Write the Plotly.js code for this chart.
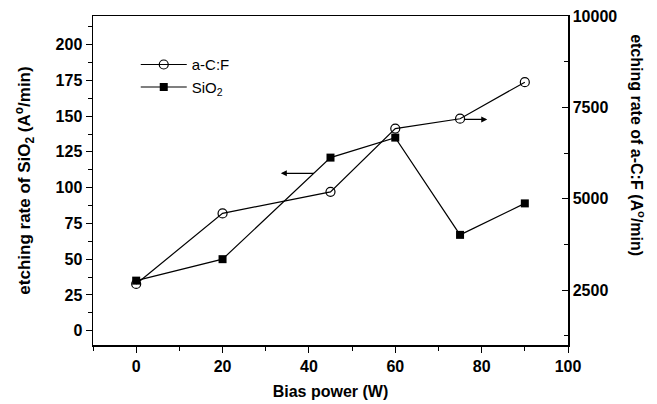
<!DOCTYPE html>
<html>
<head>
<meta charset="utf-8">
<script src="https://cdn.plot.ly/plotly-3.0.1.min.js"></script>
<style>html,body{margin:0;padding:0;background:#fff;}#chart{width:657px;height:404px;}</style>
</head>
<body>
<div id="chart"></div>
<script>
var biasPower = [0, 20, 45, 60, 75, 90];
var sio2Rate = [35, 50, 121, 135, 67, 89];
var acfRate = [2670, 4600, 5190, 6920, 7190, 8190];

var xTicks = [0, 20, 40, 60, 80, 100];
var yTicks = [0, 25, 50, 75, 100, 125, 150, 175, 200];
var y2Ticks = [2500, 5000, 7500, 10000];

function bold(arr) { return arr.map(function (v) { return '<b>' + v + '</b>'; }); }

var font = "Liberation Sans, Arial, sans-serif";

var traces = [
  {
    x: biasPower, y: acfRate, name: 'a-C:F', yaxis: 'y2', type: 'scatter', mode: 'lines+markers',
    line: {color: '#000', width: 1.2},
    marker: {symbol: 'circle-open', size: 9, color: '#000', line: {width: 1.2, color: '#000'}}
  },
  {
    x: biasPower, y: sio2Rate, name: 'SiO<sub>2</sub>', yaxis: 'y', type: 'scatter', mode: 'lines+markers',
    line: {color: '#000', width: 1.2},
    marker: {symbol: 'square', size: 8, color: '#000'}
  }
];

var layout = {
  width: 657, height: 404,
  margin: {l: 93, r: 89, t: 16, b: 59},
  paper_bgcolor: '#fff', plot_bgcolor: '#fff',
  font: {family: font, color: '#000', size: 15},
  showlegend: true,
  legend: {x: 0.09, y: 0.902, xanchor: 'left', yanchor: 'top', bgcolor: 'rgba(0,0,0,0)',
           font: {family: font, size: 15, color: '#000'}, tracegroupgap: 0, itemwidth: 46},
  xaxis: {
    range: [-10, 100], tickvals: xTicks, ticktext: bold(xTicks),
    showgrid: false, zeroline: false, showline: true, linecolor: '#000', linewidth: 1.5, mirror: true,
    ticks: 'outside', ticklen: 6, tickwidth: 1, tickcolor: '#000',
    minor: {dtick: 10, tick0: 0, ticks: 'outside', ticklen: 4, tickcolor: '#000', showgrid: false},
    tickfont: {family: font, size: 16},
    title: {text: '<b>Bias power (W)</b>', font: {family: font, size: 16}, standoff: 12}
  },
  yaxis: {
    range: [-10, 220], tickvals: yTicks, ticktext: bold(yTicks),
    showgrid: false, zeroline: false, showline: true, linecolor: '#000', linewidth: 1.5,
    ticks: 'outside', ticklen: 6, tickwidth: 1, tickcolor: '#000',
    minor: {dtick: 12.5, tick0: 0, ticks: 'outside', ticklen: 4, tickcolor: '#000', showgrid: false},
    tickfont: {family: font, size: 16},
    title: {text: '<b>etching rate of SiO<sub>2</sub> (A<sup>o</sup>/min)</b>', font: {family: font, size: 17}, standoff: 20}
  },
  yaxis2: {
    overlaying: 'y', side: 'right', range: [1000, 10000], tickvals: y2Ticks, ticktext: bold(y2Ticks),
    showgrid: false, zeroline: false, showline: true, linecolor: '#000', linewidth: 1.5,
    ticks: 'inside', ticklen: 6, tickwidth: 1, tickcolor: '#000',
    minor: {dtick: 1250, tick0: 0, ticks: 'inside', ticklen: 4, tickcolor: '#000', showgrid: false},
    tickfont: {family: font, size: 16}
  },
  annotations: [
    {x: 33.5, y: 110, xref: 'x', yref: 'y', ax: 41.5, ay: 110, axref: 'x', ayref: 'y',
     showarrow: true, arrowhead: 2, arrowsize: 1, arrowwidth: 1.2, arrowcolor: '#000', text: ''},
    {x: 81.3, y: 7170, xref: 'x', yref: 'y2', ax: 75.8, ay: 7170, axref: 'x', ayref: 'y2',
     showarrow: true, arrowhead: 2, arrowsize: 1, arrowwidth: 1.2, arrowcolor: '#000', text: ''},
    {x: 1.147, y: 0.608, xref: 'paper', yref: 'paper', xanchor: 'center', yanchor: 'middle',
     textangle: 90, showarrow: false,
     text: '<b>etching rate of a-C:F (A<sup>o</sup>/min)</b>', font: {family: font, size: 16, color: '#000'}}
  ]
};

Plotly.newPlot('chart', traces, layout, {displayModeBar: false, staticPlot: true});
</script>
</body>
</html>
